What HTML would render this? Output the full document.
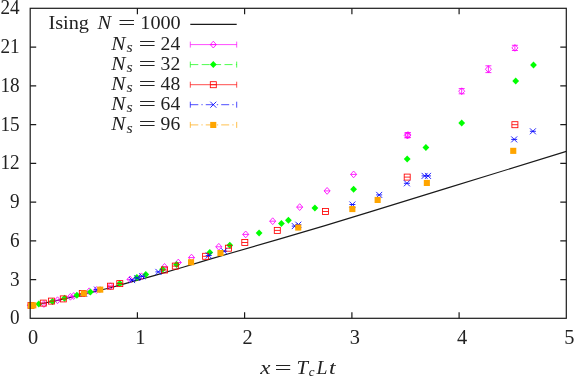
<!DOCTYPE html>
<html><head><meta charset="utf-8"><title>plot</title>
<style>
html,body{margin:0;padding:0;background:#fff;}
body{width:574px;height:378px;overflow:hidden;}
svg{display:block;}
text{font-family:"Liberation Serif",serif;fill:#222;}
svg{will-change:transform;}
.i{font-style:italic;}
</style></head><body>
<svg width="574" height="378" viewBox="0 0 574 378">
<rect width="574" height="378" fill="#fff"/>
<polyline fill="none" stroke="#1a1a1a" stroke-width="1.1" points="30.5,305.3 43.3,303.2 57.5,300.4 70.8,297.4 83.2,294.3 100.0,290.3 110.5,287.7 124.2,283.9 155.0,275.4 183.0,267.3 200.0,262.1 210.0,259.1 280.0,238.9 325.0,225.6 370.0,211.9 447.0,188.1 566.3,151.4"/>
<g stroke="#ff00ff" stroke-width="0.85" fill="none"><path d="M27.5,305.2L30.5,301.8L33.5,305.2L30.5,308.6Z"/><path d="M27.5,305.2H33.5"/></g>
<g stroke="#ff00ff" stroke-width="0.85" fill="none"><path d="M40.9,304.0L43.9,300.6L46.9,304.0L43.9,307.4Z"/><path d="M40.9,304.0H46.9"/></g>
<g stroke="#ff00ff" stroke-width="0.85" fill="none"><path d="M54.5,300.2L57.5,296.8L60.5,300.2L57.5,303.6Z"/><path d="M54.5,300.2H60.5"/></g>
<g stroke="#ff00ff" stroke-width="0.85" fill="none"><path d="M67.4,296.8L70.4,293.4L73.4,296.8L70.4,300.2Z"/><path d="M67.4,296.8H73.4"/></g>
<g stroke="#ff00ff" stroke-width="0.85" fill="none"><path d="M70.6,296.0L73.6,292.6L76.6,296.0L73.6,299.4Z"/><path d="M70.6,296.0H76.6"/></g>
<g stroke="#ff00ff" stroke-width="0.85" fill="none"><path d="M81.0,293.6L84.0,290.2L87.0,293.6L84.0,297.0Z"/><path d="M81.0,293.6H87.0"/></g>
<g stroke="#ff00ff" stroke-width="0.85" fill="none"><path d="M86.2,291.3L89.2,287.9L92.2,291.3L89.2,294.7Z"/><path d="M86.2,291.3H92.2"/></g>
<g stroke="#ff00ff" stroke-width="0.85" fill="none"><path d="M93.5,290.0L96.5,286.6L99.5,290.0L96.5,293.4Z"/><path d="M93.5,290.0H99.5"/></g>
<g stroke="#ff00ff" stroke-width="0.85" fill="none"><path d="M107.5,286.2L110.5,282.8L113.5,286.2L110.5,289.6Z"/><path d="M107.5,286.2H113.5"/></g>
<g stroke="#ff00ff" stroke-width="0.85" fill="none"><path d="M127.0,279.4L130.0,276.0L133.0,279.4L130.0,282.8Z"/><path d="M127.0,279.4H133.0"/></g>
<g stroke="#ff00ff" stroke-width="0.85" fill="none"><path d="M138.5,276.3L141.5,272.9L144.5,276.3L141.5,279.7Z"/><path d="M138.5,276.3H144.5"/></g>
<g stroke="#ff00ff" stroke-width="0.85" fill="none"><path d="M161.5,266.9L164.5,263.5L167.5,266.9L164.5,270.3Z"/><path d="M161.5,266.9H167.5"/></g>
<g stroke="#ff00ff" stroke-width="0.85" fill="none"><path d="M175.3,262.5L178.3,259.1L181.3,262.5L178.3,265.9Z"/><path d="M175.3,262.5H181.3"/></g>
<g stroke="#ff00ff" stroke-width="0.85" fill="none"><path d="M188.5,257.6L191.5,254.2L194.5,257.6L191.5,261.0Z"/><path d="M188.5,257.6H194.5"/></g>
<g stroke="#ff00ff" stroke-width="0.85" fill="none"><path d="M215.8,246.8L218.8,243.4L221.8,246.8L218.8,250.2Z"/><path d="M215.8,246.8H221.8"/></g>
<g stroke="#ff00ff" stroke-width="0.85" fill="none"><path d="M242.7,234.4L245.7,231.0L248.7,234.4L245.7,237.8Z"/><path d="M242.7,234.4H248.7"/></g>
<g stroke="#ff00ff" stroke-width="0.85" fill="none"><path d="M269.7,221.2L272.7,217.8L275.7,221.2L272.7,224.6Z"/><path d="M269.7,221.2H275.7"/></g>
<g stroke="#ff00ff" stroke-width="0.85" fill="none"><path d="M296.7,207.1L299.7,203.7L302.7,207.1L299.7,210.5Z"/><path d="M296.7,207.1H302.7"/></g>
<g stroke="#ff00ff" stroke-width="0.85" fill="none"><path d="M324.1,190.9L327.1,187.5L330.1,190.9L327.1,194.3Z"/><path d="M324.1,190.9H330.1"/></g>
<g stroke="#ff00ff" stroke-width="0.85" fill="none"><path d="M350.6,174.4L353.6,171.0L356.6,174.4L353.6,177.8Z"/><path d="M350.6,174.4H356.6"/></g>
<g stroke="#ff00ff" stroke-width="0.85" fill="none"><path d="M404.2,135.4L407.2,132.0L410.2,135.4L407.2,138.8Z"/><path d="M407.2,133.0V137.8M404.2,133.0H410.2M404.2,137.8H410.2"/></g>
<g stroke="#ff00ff" stroke-width="0.85" fill="none"><path d="M405.0,135.0L408.0,131.6L411.0,135.0L408.0,138.4Z"/><path d="M408.0,132.6V137.4M405.0,132.6H411.0M405.0,137.4H411.0"/></g>
<g stroke="#ff00ff" stroke-width="0.85" fill="none"><path d="M458.7,91.2L461.7,87.8L464.7,91.2L461.7,94.6Z"/><path d="M461.7,88.6V93.8M458.7,88.6H464.7M458.7,93.8H464.7"/></g>
<g stroke="#ff00ff" stroke-width="0.85" fill="none"><path d="M485.4,69.2L488.4,65.8L491.4,69.2L488.4,72.6Z"/><path d="M488.4,65.8V72.6M485.4,65.8H491.4M485.4,72.6H491.4"/></g>
<g stroke="#ff00ff" stroke-width="0.85" fill="none"><path d="M511.9,47.9L514.9,44.5L517.9,47.9L514.9,51.3Z"/><path d="M514.9,45.3V50.5M511.9,45.3H517.9M511.9,50.5H517.9"/></g>
<path fill="#00ff00" d="M35.4,304.1L38.8,300.6L42.2,304.1L38.8,307.6Z"/>
<path fill="#00ff00" d="M49.1,301.6L52.5,298.1L55.9,301.6L52.5,305.1Z"/>
<path fill="#00ff00" d="M61.1,298.2L64.5,294.7L67.9,298.2L64.5,301.7Z"/>
<path fill="#00ff00" d="M73.5,295.3L76.9,291.8L80.3,295.3L76.9,298.8Z"/>
<path fill="#00ff00" d="M87.0,291.9L90.4,288.4L93.8,291.9L90.4,295.4Z"/>
<path fill="#00ff00" d="M116.4,283.6L119.8,280.1L123.2,283.6L119.8,287.1Z"/>
<path fill="#00ff00" d="M133.5,277.4L136.9,273.9L140.3,277.4L136.9,280.9Z"/>
<path fill="#00ff00" d="M142.4,274.5L145.8,271.0L149.2,274.5L145.8,278.0Z"/>
<path fill="#00ff00" d="M159.2,269.3L162.6,265.8L166.0,269.3L162.6,272.8Z"/>
<path fill="#00ff00" d="M173.2,264.6L176.6,261.1L180.0,264.6L176.6,268.1Z"/>
<path fill="#00ff00" d="M206.4,252.5L209.8,249.0L213.2,252.5L209.8,256.0Z"/>
<path fill="#00ff00" d="M226.4,245.3L229.8,241.8L233.2,245.3L229.8,248.8Z"/>
<path fill="#00ff00" d="M255.7,233.0L259.1,229.5L262.5,233.0L259.1,236.5Z"/>
<path fill="#00ff00" d="M278.0,223.4L281.4,219.9L284.8,223.4L281.4,226.9Z"/>
<path fill="#00ff00" d="M285.0,220.2L288.4,216.7L291.8,220.2L288.4,223.7Z"/>
<path fill="#00ff00" d="M311.5,208.0L314.9,204.5L318.3,208.0L314.9,211.5Z"/>
<path fill="#00ff00" d="M350.2,189.3L353.6,185.8L357.0,189.3L353.6,192.8Z"/>
<path fill="#00ff00" d="M403.8,158.9L407.2,155.4L410.6,158.9L407.2,162.4Z"/>
<path fill="#00ff00" d="M422.5,147.4L425.9,143.9L429.3,147.4L425.9,150.9Z"/>
<path fill="#00ff00" d="M458.3,123.1L461.7,119.6L465.1,123.1L461.7,126.6Z"/>
<path fill="#00ff00" d="M512.3,81.0L515.7,77.5L519.1,81.0L515.7,84.5Z"/>
<path fill="#00ff00" d="M530.1,65.1L533.5,61.6L536.9,65.1L533.5,68.6Z"/>
<g stroke="#ff0000" stroke-width="0.85" fill="none"><rect x="28.0" y="302.5" width="6" height="6"/><path d="M28.0,305.5H34.0"/></g>
<g stroke="#ff0000" stroke-width="0.85" fill="none"><rect x="40.3" y="300.1" width="6" height="6"/><path d="M40.3,303.1H46.3"/></g>
<g stroke="#ff0000" stroke-width="0.85" fill="none"><rect x="48.4" y="298.1" width="6" height="6"/><path d="M48.4,301.1H54.4"/></g>
<g stroke="#ff0000" stroke-width="0.85" fill="none"><rect x="60.3" y="295.9" width="6" height="6"/><path d="M60.3,298.9H66.3"/></g>
<g stroke="#ff0000" stroke-width="0.85" fill="none"><rect x="79.3" y="290.5" width="6" height="6"/><path d="M79.3,293.5H85.3"/></g>
<g stroke="#ff0000" stroke-width="0.85" fill="none"><rect x="107.5" y="283.2" width="6" height="6"/><path d="M107.5,286.2H113.5"/></g>
<g stroke="#ff0000" stroke-width="0.85" fill="none"><rect x="116.8" y="280.6" width="6" height="6"/><path d="M116.8,283.6H122.8"/></g>
<g stroke="#ff0000" stroke-width="0.85" fill="none"><rect x="161.5" y="267.0" width="6" height="6"/><path d="M161.5,270.0H167.5"/></g>
<g stroke="#ff0000" stroke-width="0.85" fill="none"><rect x="172.3" y="263.1" width="6" height="6"/><path d="M172.3,266.1H178.3"/></g>
<g stroke="#ff0000" stroke-width="0.85" fill="none"><rect x="202.6" y="253.3" width="6" height="6"/><path d="M202.6,256.3H208.6"/></g>
<g stroke="#ff0000" stroke-width="0.85" fill="none"><rect x="225.4" y="245.2" width="6" height="6"/><path d="M225.4,248.2H231.4"/></g>
<g stroke="#ff0000" stroke-width="0.85" fill="none"><rect x="241.8" y="239.5" width="6" height="6"/><path d="M241.8,242.5H247.8"/></g>
<g stroke="#ff0000" stroke-width="0.85" fill="none"><rect x="274.3" y="227.4" width="6" height="6"/><path d="M274.3,230.4H280.3"/></g>
<g stroke="#ff0000" stroke-width="0.85" fill="none"><rect x="322.5" y="208.5" width="6" height="6"/><path d="M322.5,211.5H328.5"/></g>
<g stroke="#ff0000" stroke-width="0.85" fill="none"><rect x="404.2" y="174.1" width="6" height="6"/><path d="M404.2,177.1H410.2"/></g>
<g stroke="#ff0000" stroke-width="0.85" fill="none"><rect x="511.9" y="121.7" width="6" height="6"/><path d="M511.9,124.7H517.9"/></g>
<g stroke="#0000ff" stroke-width="0.85" fill="none"><path d="M81.2,290.9L87.2,296.9M81.2,296.9L87.2,290.9"/><path d="M81.2,293.9H87.2"/></g>
<g stroke="#0000ff" stroke-width="0.85" fill="none"><path d="M94.0,286.6L100.0,292.6M94.0,292.6L100.0,286.6"/><path d="M94.0,289.6H100.0"/></g>
<g stroke="#0000ff" stroke-width="0.85" fill="none"><path d="M129.1,277.1L135.1,283.1M129.1,283.1L135.1,277.1"/><path d="M129.1,280.1H135.1"/></g>
<g stroke="#0000ff" stroke-width="0.85" fill="none"><path d="M134.3,275.0L140.3,281.0M134.3,281.0L140.3,275.0"/><path d="M134.3,278.0H140.3"/></g>
<g stroke="#0000ff" stroke-width="0.85" fill="none"><path d="M139.3,273.3L145.3,279.3M139.3,279.3L145.3,273.3"/><path d="M139.3,276.3H145.3"/></g>
<g stroke="#0000ff" stroke-width="0.85" fill="none"><path d="M155.4,268.9L161.4,274.9M155.4,274.9L161.4,268.9"/><path d="M155.4,271.9H161.4"/></g>
<g stroke="#0000ff" stroke-width="0.85" fill="none"><path d="M205.7,252.5L211.7,258.5M205.7,258.5L211.7,252.5"/><path d="M205.7,255.5H211.7"/></g>
<g stroke="#0000ff" stroke-width="0.85" fill="none"><path d="M221.0,248.2L227.0,254.2M221.0,254.2L227.0,248.2"/><path d="M221.0,251.2H227.0"/></g>
<g stroke="#0000ff" stroke-width="0.85" fill="none"><path d="M291.8,223.1L297.8,229.1M291.8,229.1L297.8,223.1"/><path d="M291.8,226.1H297.8"/></g>
<g stroke="#0000ff" stroke-width="0.85" fill="none"><path d="M295.3,221.7L301.3,227.7M295.3,227.7L301.3,221.7"/><path d="M295.3,224.7H301.3"/></g>
<g stroke="#0000ff" stroke-width="0.85" fill="none"><path d="M349.4,201.5L355.4,207.5M349.4,207.5L355.4,201.5"/><path d="M349.4,204.5H355.4"/></g>
<g stroke="#0000ff" stroke-width="0.85" fill="none"><path d="M376.2,191.9L382.2,197.9M376.2,197.9L382.2,191.9"/><path d="M376.2,194.9H382.2"/></g>
<g stroke="#0000ff" stroke-width="0.85" fill="none"><path d="M403.9,180.3L409.9,186.3M403.9,186.3L409.9,180.3"/><path d="M403.9,183.3H409.9"/></g>
<g stroke="#0000ff" stroke-width="0.85" fill="none"><path d="M421.6,172.9L427.6,178.9M421.6,178.9L427.6,172.9"/><path d="M421.6,175.9H427.6"/></g>
<g stroke="#0000ff" stroke-width="0.85" fill="none"><path d="M425.0,172.9L431.0,178.9M425.0,178.9L431.0,172.9"/><path d="M425.0,175.9H431.0"/></g>
<g stroke="#0000ff" stroke-width="0.85" fill="none"><path d="M511.2,136.4L517.2,142.4M511.2,142.4L517.2,136.4"/><path d="M511.2,139.4H517.2"/></g>
<g stroke="#0000ff" stroke-width="0.85" fill="none"><path d="M529.9,128.3L535.9,134.3M529.9,134.3L535.9,128.3"/><path d="M529.9,131.3H535.9"/></g>
<rect fill="#ffa500" x="27.9" y="302.6" width="6.1" height="6.1"/>
<rect fill="#ffa500" x="30.3" y="302.3" width="6.1" height="6.1"/>
<rect fill="#ffa500" x="80.8" y="290.4" width="6.1" height="6.1"/>
<rect fill="#ffa500" x="97.2" y="286.6" width="6.1" height="6.1"/>
<rect fill="#ffa500" x="188.0" y="259.2" width="6.1" height="6.1"/>
<rect fill="#ffa500" x="217.4" y="250.0" width="6.1" height="6.1"/>
<rect fill="#ffa500" x="295.2" y="224.5" width="6.1" height="6.1"/>
<rect fill="#ffa500" x="349.3" y="206.0" width="6.1" height="6.1"/>
<rect fill="#ffa500" x="374.6" y="196.9" width="6.1" height="6.1"/>
<rect fill="#ffa500" x="423.8" y="179.9" width="6.1" height="6.1"/>
<rect fill="#ffa500" x="510.2" y="147.8" width="6.1" height="6.1"/>
<g stroke="#1a1a1a" stroke-width="1.2" fill="none">
<rect x="30.2" y="8.3" width="536.1" height="310.0"/>
<path d="M137.4,318.3v-6M137.4,8.3v6M244.6,318.3v-6M244.6,8.3v6M351.9,318.3v-6M351.9,8.3v6M459.1,318.3v-6M459.1,8.3v6M30.2,279.6h6M566.3,279.6h-6M30.2,240.8h6M566.3,240.8h-6M30.2,202.1h6M566.3,202.1h-6M30.2,163.3h6M566.3,163.3h-6M30.2,124.6h6M566.3,124.6h-6M30.2,85.8h6M566.3,85.8h-6M30.2,47.1h6M566.3,47.1h-6"/>
</g>
<text x="10.1" y="324.3" font-size="20" textLength="9.6" lengthAdjust="spacingAndGlyphs">0</text>
<text x="10.1" y="285.6" font-size="20" textLength="9.6" lengthAdjust="spacingAndGlyphs">3</text>
<text x="10.1" y="246.8" font-size="20" textLength="9.6" lengthAdjust="spacingAndGlyphs">6</text>
<text x="10.1" y="208.1" font-size="20" textLength="9.6" lengthAdjust="spacingAndGlyphs">9</text>
<text x="0.5" y="169.3" font-size="20" textLength="19.2" lengthAdjust="spacingAndGlyphs">12</text>
<text x="0.5" y="130.6" font-size="20" textLength="19.2" lengthAdjust="spacingAndGlyphs">15</text>
<text x="0.5" y="91.8" font-size="20" textLength="19.2" lengthAdjust="spacingAndGlyphs">18</text>
<text x="0.5" y="53.1" font-size="20" textLength="19.2" lengthAdjust="spacingAndGlyphs">21</text>
<text x="0.5" y="14.3" font-size="20" textLength="19.2" lengthAdjust="spacingAndGlyphs">24</text>
<text x="28.1" y="344.0" font-size="20" textLength="10.2" lengthAdjust="spacingAndGlyphs">0</text>
<text x="135.3" y="344.0" font-size="20" textLength="10.2" lengthAdjust="spacingAndGlyphs">1</text>
<text x="242.5" y="344.0" font-size="20" textLength="10.2" lengthAdjust="spacingAndGlyphs">2</text>
<text x="349.8" y="344.0" font-size="20" textLength="10.2" lengthAdjust="spacingAndGlyphs">3</text>
<text x="457.0" y="344.0" font-size="20" textLength="10.2" lengthAdjust="spacingAndGlyphs">4</text>
<text x="564.2" y="344.0" font-size="20" textLength="10.2" lengthAdjust="spacingAndGlyphs">5</text>
<text x="260.3" y="373.6" font-size="19" class="i" textLength="10.2" lengthAdjust="spacingAndGlyphs">x</text>
<text x="274.4" y="373.6" font-size="19" textLength="17.2" lengthAdjust="spacingAndGlyphs">=</text>
<text x="296.6" y="373.6" font-size="19" class="i" textLength="11.5" lengthAdjust="spacingAndGlyphs">T</text>
<text x="308.8" y="376.40000000000003" font-size="13" class="i" textLength="5.8" lengthAdjust="spacingAndGlyphs">c</text>
<text x="316.6" y="373.6" font-size="19" class="i" textLength="11" lengthAdjust="spacingAndGlyphs">L</text>
<text x="328.9" y="373.6" font-size="19" class="i" textLength="6.6" lengthAdjust="spacingAndGlyphs">t</text>
<text x="48.4" y="29.0" font-size="19" textLength="40.6" lengthAdjust="spacingAndGlyphs">Ising</text>
<text x="97.6" y="29.0" font-size="19" class="i" textLength="13.6" lengthAdjust="spacingAndGlyphs">N</text>
<text x="117.9" y="29.0" font-size="19" textLength="17.5" lengthAdjust="spacingAndGlyphs">=</text>
<text x="140.3" y="29.0" font-size="19" textLength="40.4" lengthAdjust="spacingAndGlyphs">1000</text>
<text x="111.2" y="49.5" font-size="19" class="i" textLength="14.2" lengthAdjust="spacingAndGlyphs">N</text>
<text x="126.6" y="52.3" font-size="14" class="i" textLength="6.2" lengthAdjust="spacingAndGlyphs">s</text>
<text x="138.6" y="49.5" font-size="19" textLength="17.6" lengthAdjust="spacingAndGlyphs">=</text>
<text x="160.6" y="49.5" font-size="19" textLength="19.6" lengthAdjust="spacingAndGlyphs">24</text>
<text x="111.2" y="69.5" font-size="19" class="i" textLength="14.2" lengthAdjust="spacingAndGlyphs">N</text>
<text x="126.6" y="72.3" font-size="14" class="i" textLength="6.2" lengthAdjust="spacingAndGlyphs">s</text>
<text x="138.6" y="69.5" font-size="19" textLength="17.6" lengthAdjust="spacingAndGlyphs">=</text>
<text x="160.6" y="69.5" font-size="19" textLength="19.6" lengthAdjust="spacingAndGlyphs">32</text>
<text x="111.2" y="89.6" font-size="19" class="i" textLength="14.2" lengthAdjust="spacingAndGlyphs">N</text>
<text x="126.6" y="92.4" font-size="14" class="i" textLength="6.2" lengthAdjust="spacingAndGlyphs">s</text>
<text x="138.6" y="89.6" font-size="19" textLength="17.6" lengthAdjust="spacingAndGlyphs">=</text>
<text x="160.6" y="89.6" font-size="19" textLength="19.6" lengthAdjust="spacingAndGlyphs">48</text>
<text x="111.2" y="109.6" font-size="19" class="i" textLength="14.2" lengthAdjust="spacingAndGlyphs">N</text>
<text x="126.6" y="112.4" font-size="14" class="i" textLength="6.2" lengthAdjust="spacingAndGlyphs">s</text>
<text x="138.6" y="109.6" font-size="19" textLength="17.6" lengthAdjust="spacingAndGlyphs">=</text>
<text x="160.6" y="109.6" font-size="19" textLength="19.6" lengthAdjust="spacingAndGlyphs">64</text>
<text x="111.2" y="129.8" font-size="19" class="i" textLength="14.2" lengthAdjust="spacingAndGlyphs">N</text>
<text x="126.6" y="132.6" font-size="14" class="i" textLength="6.2" lengthAdjust="spacingAndGlyphs">s</text>
<text x="138.6" y="129.8" font-size="19" textLength="17.6" lengthAdjust="spacingAndGlyphs">=</text>
<text x="160.6" y="129.8" font-size="19" textLength="19.6" lengthAdjust="spacingAndGlyphs">96</text>
<path d="M190.3,24.4H236.7" stroke="#1a1a1a" stroke-width="1.1"/>
<path d="M190.3,44.6H236.7" stroke="#ff00ff" stroke-width="0.7"/>
<path d="M190.3,41.6v6M236.7,41.6v6" stroke="#ff00ff" stroke-width="0.7"/>
<g stroke="#ff00ff" stroke-width="0.85" fill="none"><path d="M210.3,44.6L213.3,41.2L216.3,44.6L213.3,48.0Z"/><path d="M210.3,44.6H216.3"/></g>
<path d="M190.3,64.6H236.7" stroke="#00ff00" stroke-width="0.7" stroke-dasharray="8 3.4"/>
<path d="M190.3,61.599999999999994v6M236.7,61.599999999999994v6" stroke="#00ff00" stroke-width="0.7"/>
<path fill="#00ff00" d="M209.9,64.6L213.3,61.1L216.7,64.6L213.3,68.1Z"/>
<path d="M190.3,84.7H236.7" stroke="#ff0000" stroke-width="0.7"/>
<path d="M190.3,81.7v6M236.7,81.7v6" stroke="#ff0000" stroke-width="0.7"/>
<g stroke="#ff0000" stroke-width="0.85" fill="none"><rect x="210.3" y="81.7" width="6" height="6"/><path d="M210.3,84.7H216.3"/></g>
<path d="M190.3,104.7H236.7" stroke="#0000ff" stroke-width="0.7" stroke-dasharray="8 3.1 1.3 3.05"/>
<path d="M190.3,101.7v6M236.7,101.7v6" stroke="#0000ff" stroke-width="0.7"/>
<g stroke="#0000ff" stroke-width="0.85" fill="none"><path d="M210.3,101.7L216.3,107.7M210.3,107.7L216.3,101.7"/></g>
<path d="M190.3,124.9H236.7" stroke="#ffa500" stroke-width="0.7" stroke-dasharray="8 3.1 1.3 3.05"/>
<path d="M190.3,121.9v6M236.7,121.9v6" stroke="#ffa500" stroke-width="0.7"/>
<rect fill="#ffa500" x="210.2" y="121.9" width="6.1" height="6.1"/>
</svg>
</body></html>
